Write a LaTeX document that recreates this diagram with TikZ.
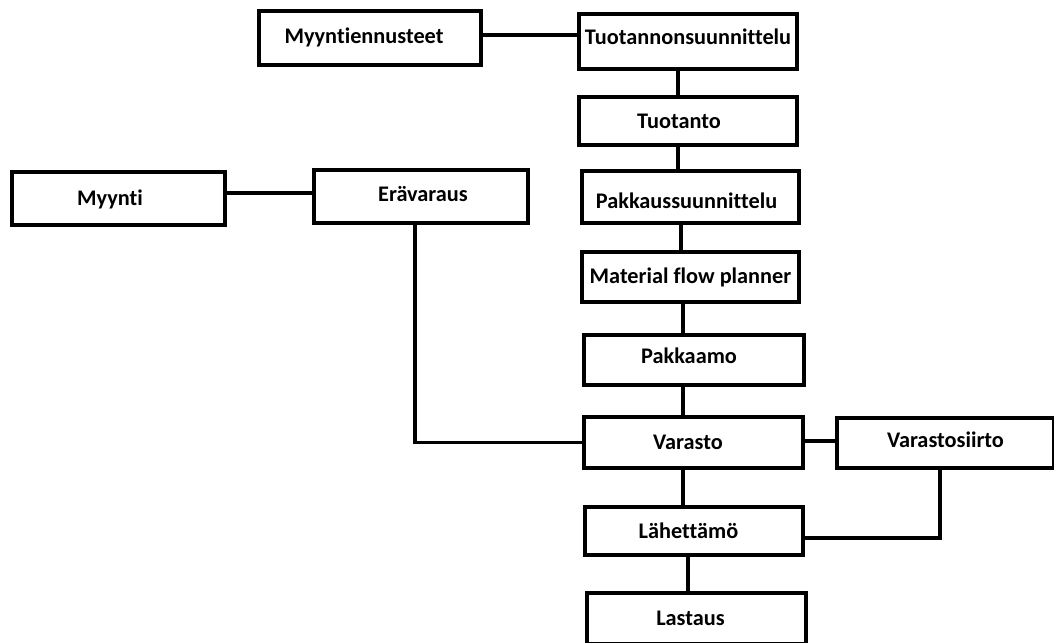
\documentclass[tikz,border=0pt]{standalone}
\usepackage{fontspec}
\setmainfont[Ligatures=NoCommon]{Carlito}
\begin{document}
\begin{tikzpicture}[x=1bp, y=-1bp,
  box/.style={draw=black, line width=4bp, fill=white, inner sep=0pt,
    minimum width=#1},
  tx/.style={font=\fontsize{22.3bp}{26bp}\selectfont\bfseries, text=black, inner sep=0pt},
  link/.style={draw=black, line width=3.5bp}]
\useasboundingbox (0,0) rectangle (1054,643);

% upper planning chain
\node[box=222bp, minimum height=54bp, label={[tx, shift={(-6bp,1bp)}]center:Myyntiennusteet}] (myen) at (370,38) {};
\node[box=218bp, minimum height=55bp, label={[tx, shift={(0bp,4.5bp)}]center:Tuotannonsuunnittelu}] (tsu) at (688,41.5) {};
\node[box=218bp, minimum height=48bp, label={[tx, shift={(-9bp,0bp)}]center:Tuotanto}] (tuot) at (688,121) {};
\node[box=217bp, minimum height=52bp, label={[tx, shift={(-4bp,-4bp)}]center:Pakkaussuunnittelu}] (pakks) at (690.5,197) {};
\node[box=217bp, minimum height=50bp, label={[tx]center:Material flow planner}] (mfp) at (690.5,277) {};
\node[box=220bp, minimum height=50bp, label={[tx, shift={(-5bp,4bp)}]center:Pakkaamo}] (pakkaamo) at (694,360) {};
\node[box=219bp, minimum height=51bp, label={[tx, shift={(-5.5bp,0bp)}]center:Varasto}] (varasto) at (693.5,442.5) {};
\node[box=217bp, minimum height=50bp, label={[tx, shift={(0bp,3.5bp)}]center:Varastosiirto}] (siirto) at (945.5,443) {};
\node[box=218bp, minimum height=48bp, label={[tx, shift={(-5.5bp,0bp)}]center:Lähettämö}] (lahet) at (694,531) {};
\node[box=219bp, minimum height=51bp, label={[tx, shift={(-6bp,0bp)}]center:Lastaus}] (lastaus) at (696.5,618.5) {};

% sales side
\node[box=213bp, minimum height=53bp, label={[tx, shift={(-8.5bp,-1bp)}]center:Myynti}] (myynti) at (118.5,198.5) {};
\node[box=214bp, minimum height=53bp, label={[tx, shift={(2bp,2bp)}]center:Erävaraus}] (era) at (421,196.5) {};

% connectors
\draw[link] (myen.east |- 0,35) -- (tsu.west |- 0,35);
\draw[link] (tsu.south -| 678,0) -- (tuot.north -| 678,0);
\draw[link] (tuot.south -| 678,0) -- (pakks.north -| 678,0);
\draw[link] (pakks.south -| 681,0) -- (mfp.north -| 681,0);
\draw[link] (mfp.south -| 683,0) -- (pakkaamo.north -| 683,0);
\draw[link] (pakkaamo.south -| 683,0) -- (varasto.north -| 683,0);
\draw[link] (varasto.south -| 683,0) -- (lahet.north -| 683,0);
\draw[link] (lahet.south -| 688,0) -- (lastaus.north -| 688,0);
\draw[link] (myynti.east |- 0,193) -- (era.west |- 0,193);
\draw[link] (era.south -| 415,0) |- (varasto.west);
\draw[link] (varasto.east |- 0,441) -- (siirto.west |- 0,441);
\draw[link] (siirto.south -| 940,0) |- (lahet.east |- 0,538);
\end{tikzpicture}
\end{document}
